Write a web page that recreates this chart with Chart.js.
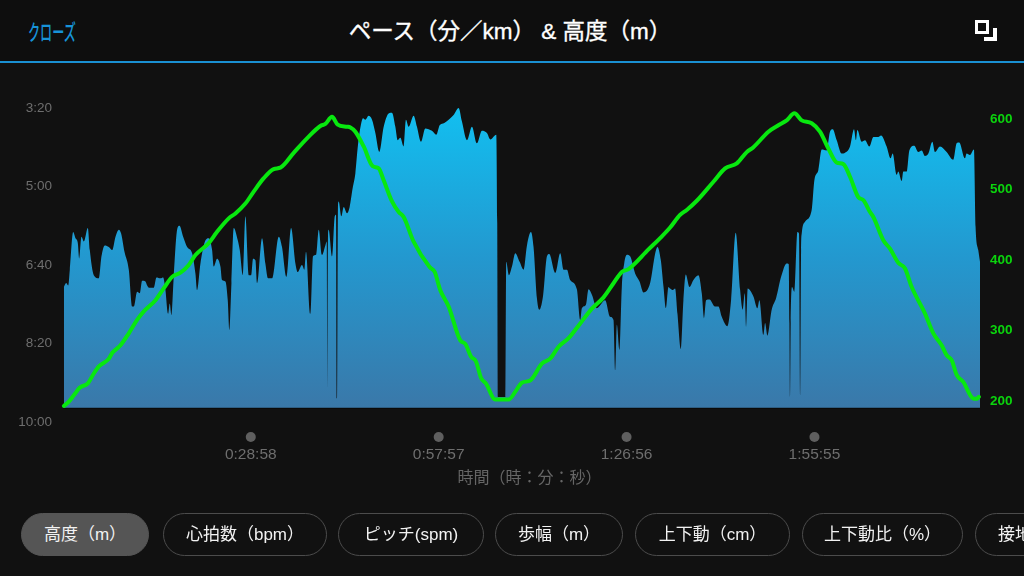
<!DOCTYPE html>
<html lang="ja"><head><meta charset="utf-8">
<script src="https://cdn.jsdelivr.net/npm/chart.js@4"></script>
<style>
html,body{margin:0;padding:0;width:1024px;height:576px;overflow:hidden;background:#111;font-family:"Liberation Sans","Noto Sans CJK JP",sans-serif}
#c{position:absolute;left:0;top:0}
#hd{position:absolute;left:0;top:0;width:1024px;height:61px;background:#0e0e0e;border-bottom:2px solid #1a90d2}
#close{position:absolute;left:28px;top:14px;color:#1793d8;font:500 22px "Noto Sans CJK JP";transform:scaleX(.55);transform-origin:left center;white-space:nowrap}
#ttl{position:absolute;left:0;width:1020px;top:13px;text-align:center;color:#fff;font:400 22.5px "Liberation Sans","Noto Sans CJK JP";-webkit-text-stroke:.35px #fff;white-space:nowrap}
.ic1{position:absolute;left:975px;top:20px;width:8px;height:8px;border:3px solid #fff;background:#0e0e0e}
.ic2{position:absolute;left:984px;top:37px;width:13px;height:4px;background:#fff}
.ic3{position:absolute;left:993px;top:28px;width:4px;height:10px;background:#fff}
.pill{position:absolute;top:513px;height:41px;border:1px solid #4c4c4c;border-radius:22px;color:#f2f2f2;font:400 17px/41px "Liberation Sans","Noto Sans CJK JP";text-align:center;white-space:nowrap;box-sizing:content-box}
.pill.on{background:#555;border-color:#555}
</style></head><body>
<canvas id="c" width="1024" height="576"></canvas>
<div id="hd"><div id="close">クローズ</div><div id="ttl">ペース（分／km） &amp; 高度（m）</div><div class="ic1"></div><div class="ic2"></div><div class="ic3"></div></div>
<div class="pill on" style="left:21px;width:126px">高度（m）</div>
<div class="pill" style="left:163px;width:162px">心拍数（bpm）</div>
<div class="pill" style="left:338px;width:144px">ピッチ(spm)</div>
<div class="pill" style="left:495px;width:126px">歩幅（m）</div>
<div class="pill" style="left:635px;width:153px">上下動（cm）</div>
<div class="pill" style="left:802px;width:159px">上下動比（%）</div>
<div class="pill" style="left:975px;width:120px;text-align:left;text-indent:22px">接地</div>
<script>
const paceTimes=[8,29,48,63,94,116,137,150,171,193,230,248,285,332,356,387,424,455,486,517,538,569,609,640,655,686,711,732,763,779,800,840,865,902,927,948,973,988,1004,1025,1056,1078,1112,1149,1195,1226,1241,1272,1309,1349,1380,1395,1426,1457,1472,1503,1525,1540,1559,1580,1617,1636,1664,1688,1719,1741,1759,1781,1796,1842,1873,1898,1935,1997,2027,2068,2111,2151,2172,2212,2234,2249,2289,2314,2342,2367,2397,2428,2441,2447,2453,2459,2490,2515,2527,2536,2545,2552,2576,2598,2629,2653,2681,2706,2727,2746,2777,2798,2829,2860,2891,2928,2968,3014,3045,3076,3097,3122,3153,3174,3199,3245,3276,3313,3353,3415,3455,3486,3529,3569,3615,3662,3692,3739,3785,3831,3877,3924,3955,4010,4019,4025,4096,4102,4127,4155,4186,4226,4263,4294,4331,4355,4386,4408,4442,4479,4500,4556,4602,4633,4664,4694,4756,4787,4802,4839,4864,4895,4941,5018,5064,5095,5111,5126,5151,5172,5194,5219,5249,5296,5336,5373,5434,5481,5502,5533,5558,5579,5604,5619,5644,5665,5687,5718,5742,5764,5798,5835,5881,5912,5933,5952,5983,6035,6066,6097,6149,6183,6226,6267,6291,6310,6322,6337,6390,6427,6445,6482,6498,6519,6559,6600,6646,6698,6717,6723,6729,6735,6747,6769,6797,6812,6822,6831,6837,6868,6929,6954,6991,7022,7068,7099,7124,7161,7207,7238,7284,7321,7339,7352,7392,7423,7463,7500,7546,7571,7623,7660,7679,7716,7731,7762,7777,7808,7833,7879,7916,7947,7978,8009,8046,8070,8117,8178,8240,8271,8295,8348,8363,8394,8431,8446,8471,8487];
const paceSeconds=[428,423,426,406,358,366,372,392,364,370,353,381,413,417,389,375,377,381,364,355,360,383,406,453,453,434,436,420,421,426,429,429,416,417,416,432,462,449,464,415,355,350,364,377,385,411,432,398,372,366,381,402,392,402,419,421,445,483,423,353,368,381,413,338,413,413,392,394,423,366,398,417,417,364,377,415,353,398,409,400,406,383,462,389,387,355,387,375,370,568,360,355,389,338,336,570,324,319,338,326,334,326,302,283,251,230,213,215,210,215,232,256,224,207,206,224,241,238,249,215,224,210,224,243,226,229,234,222,219,215,209,200,217,241,224,245,229,232,240,234,347,568,568,396,413,402,385,396,406,375,358,377,442,457,440,389,386,410,385,406,406,419,431,470,455,451,431,438,455,445,466,470,534,476,508,428,398,387,389,411,421,435,423,385,377,394,428,455,428,430,432,430,462,507,445,412,428,419,413,436,468,445,444,453,453,466,478,445,359,432,457,436,479,430,440,455,445,489,474,490,457,442,415,398,399,474,568,474,428,434,358,360,566,381,360,345,330,292,279,253,254,230,227,241,258,257,249,227,241,228,243,241,249,237,237,235,249,264,258,285,281,293,281,281,254,248,256,254,261,258,243,256,249,256,266,245,244,264,258,260,253,351,381,396];
const altTimes=[8,54,100,156,230,285,332,424,455,532,609,686,748,856,933,1010,1087,1164,1226,1349,1426,1534,1596,1688,1765,1858,1950,2012,2135,2274,2382,2428,2490,2542,2629,2660,2706,2783,2866,2922,2968,3045,3107,3153,3245,3393,3440,3492,3569,3677,3723,3776,3822,3871,3914,4001,4124,4186,4247,4324,4432,4509,4587,4679,4787,4895,5003,5095,5172,5234,5419,5527,5619,5711,5773,5866,6020,6128,6236,6328,6390,6529,6621,6698,6769,6837,6929,7006,7084,7161,7222,7284,7361,7407,7469,7500,7592,7654,7731,7793,7854,7978,8055,8132,8178,8225,8271,8332,8419,8456,8477];
const altMeters=[193,199,208,219,225,239,249,260,268,279,296,315,327,343,360,376,382,393,407,424,440,459,466,480,497,516,529,531,552,575,590,593,603,592,589,588,582,561,533,530,513,483,468,461,426,390,383,357,334,286,281,263,256,232,225,202,202,213,226,229,253,260,277,289,310,331,347,367,383,387,415,431,446,464,471,484,511,530,537,553,560,582,591,598,608,598,594,582,558,538,536,518,489,485,468,461,428,416,396,388,362,324,296,279,265,258,237,227,204,203,206];
const paceTicks=[200,300,400,500,600];
const altTicks=[200,300,400,500,600];
const timeTicks=[1738,3477,5216,6955];
const timeLabels=["0:28:58","0:57:57","1:26:56","1:55:55"];
const paceBase=582;
const zip=(a,b)=>a.map((x,i)=>({x,y:b[i]}));
const fmt=v=>Math.floor(v/60)+":"+String(v%60).padStart(2,"0");
const uiFont='"Liberation Sans","Noto Sans CJK JP",sans-serif';
const decor={id:"decor",afterDraw(ch){
  const c=ch.ctx,xs=ch.scales.x;
  c.save();
  c.fillStyle="#5f5f5f";
  timeTicks.forEach(t=>{c.beginPath();c.arc(xs.getPixelForValue(t),437,5,0,Math.PI*2);c.fill();});
  c.restore();
},beforeDatasetsDraw(ch){
  const c=ch.ctx,ys=ch.scales.pace;
  const y=ys.getPixelForValue(paceBase);
  c.save();c.fillStyle="#0a0a0a";c.fillRect(63,y,917,1);c.restore();
}};
new Chart(document.getElementById("c"),{
  type:"line",
  plugins:[decor],
  data:{datasets:[
    {label:"高度（m）",data:zip(altTimes,altMeters),yAxisID:"alt",borderColor:"#08e80f",borderWidth:4,pointRadius:0,cubicInterpolationMode:"monotone",fill:false,borderJoinStyle:"round",borderCapStyle:"round",clip:false},
    {label:"ペース（分／km）",data:zip(paceTimes,paceSeconds),yAxisID:"pace",borderWidth:0,pointRadius:0,cubicInterpolationMode:"monotone",fill:{value:paceBase},
     backgroundColor(ctx){const a=ctx.chart.chartArea;if(!a)return "#2a90c8";const g=ctx.chart.ctx.createLinearGradient(0,108,0,408);g.addColorStop(0,"#12bff0");g.addColorStop(.5,"#2398cf");g.addColorStop(1,"#3a78a9");return g;}}
  ]},
  options:{
    responsive:false,animation:false,devicePixelRatio:1,
    layout:{padding:{top:90,left:0,right:0,bottom:0}},
    plugins:{legend:{display:false},tooltip:{enabled:false},title:{display:false}},
    scales:{
      x:{type:"linear",min:0,max:8487,grid:{display:false,drawTicks:false},border:{display:false},
        afterBuildTicks(s){s.ticks=timeTicks.map(v=>({value:v}));},
        afterFit(s){s.height=154;},
        ticks:{autoSkip:false,maxRotation:0,padding:23,color:"#6e6e6e",font:{family:uiFont,size:15.5},callback(v){return timeLabels[timeTicks.indexOf(v)];}},
        title:{display:true,text:"\u3000時間（時：分：秒）",color:"#666",font:{family:uiFont,size:16},padding:{top:0,bottom:88}}},
      pace:{position:"left",reverse:true,min:177.07,max:600,grid:{display:false,drawTicks:false},border:{display:false},
        afterBuildTicks(s){s.ticks=paceTicks.map(v=>({value:v}));},
        afterFit(s){s.width=63;},
        ticks:{padding:11,color:"#6e6e6e",font:{family:uiFont,size:13.5},callback:v=>fmt(v)}},
      alt:{position:"right",min:170.2,max:641.1,grid:{display:false,drawTicks:false},border:{display:false},
        afterBuildTicks(s){s.ticks=altTicks.map(v=>({value:v}));},
        afterFit(s){s.width=44;},
        ticks:{padding:10,color:"#0bd40d",font:{family:uiFont,size:13.5,weight:"bold"}}}
    }
  }
});
</script></body></html>
